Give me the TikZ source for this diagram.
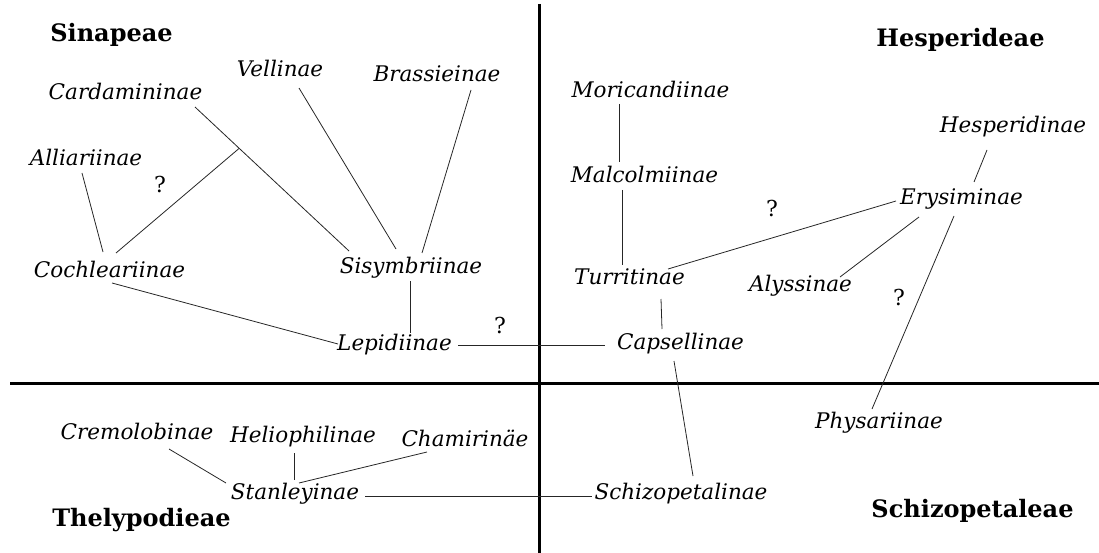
\documentclass[tikz,border=0pt]{standalone}
\usepackage{fontspec}
\setmainfont{DejaVu Serif}
\begin{document}
\begin{tikzpicture}[x=1pt,y=-1pt,
  taxon/.style={anchor=base,inner sep=0pt,font=\fontsize{21.5}{24}\selectfont\itshape},
  tribe/.style={anchor=base,inner sep=0pt,font=\fontsize{24}{28}\selectfont\bfseries},
  qmark/.style={anchor=base,inner sep=0pt,font=\fontsize{22}{24}\selectfont},
  link/.style={line width=0.8pt,draw=black!85},
  axis/.style={line width=3pt}]
\useasboundingbox (0,0) rectangle (1099,553);
% axes
\coordinate (hl) at (10,383); \coordinate (hr) at (1099,383);
\coordinate (vt) at (539,4);  \coordinate (vb) at (539,553);
\draw[axis] (hl) -- (hr);
\draw[axis] (vt) -- (vb);
% tribes
\node[tribe] (sinapeae) at (111.5,42) {Sinapeae};
\node[tribe] (hesperideae) at (960.5,47) {Hesperideae};
\node[tribe] (thelypodieae) at (141.5,526) {Thelypodieae};
\node[tribe] (schizopetaleae) at (972.5,517) {Schizopetaleae};
% taxa
\node[taxon] (vel) at (280,77) {Vellinae};
\node[taxon] (bra) at (437,82) {Brassieinae};
\node[taxon] (car) at (125.5,100) {Cardamininae};
\node[taxon] (all) at (86,166) {Alliariinae};
\node[taxon] (coc) at (109.5,277) {Cochleariinae};
\node[taxon] (sis) at (411,273) {Sisymbriinae};
\node[taxon] (lep) at (394.5,350) {Lepidiinae};
\node[taxon] (mor) at (650.5,98) {Moricandiinae};
\node[taxon] (mal) at (644.5,183) {Malcolmiinae};
\node[taxon] (hes) at (1013,133) {Hesperidinae};
\node[taxon] (ery) at (961.5,205) {Erysiminae};
\node[taxon] (tur) at (629.5,284) {Turritinae};
\node[taxon] (aly) at (800.5,291) {Alyssinae};
\node[taxon] (cap) at (680.5,349) {Capsellinae};
\node[taxon] (phy) at (879,428) {Physariinae};
\node[taxon] (cre) at (137,439) {Cremolobinae};
\node[taxon] (hel) at (303,442) {Heliophilinae};
\node[taxon] (cha) at (465,446) {Chamirinäe};
\node[taxon] (sta) at (295,499) {Stanleyinae};
\node[taxon] (sch) at (681,499) {Schizopetalinae};
% question marks
\node[qmark] (q1) at (160,193) {?};
\node[qmark] (q2) at (500,333) {?};
\node[qmark] (q3) at (772,217) {?};
\node[qmark] (q4) at (899,305) {?};
% connectors
\coordinate (j1) at (239,148.5);
\draw[link] ([shift={(69.5,7)}]car.base) -- ([shift={(-62,-22)}]sis.base);
\draw[link] (j1) -- ([shift={(6.5,-24)}]coc.base);
\draw[link] ([shift={(-4,7)}]all.base) -- ([shift={(-6.5,-25)}]coc.base);
\draw[link] ([shift={(19,11)}]vel.base) -- ([shift={(-15,-24)}]sis.base);
\draw[link] ([shift={(34,8)}]bra.base) -- ([shift={(11,-20)}]sis.base);
\draw[link] ([shift={(-1,8)}]sis.base) -- ([shift={(15.5,-17)}]lep.base);
\draw[link] ([shift={(2.5,6)}]coc.base) -- ([shift={(-56.5,-6)}]lep.base);
\draw[link] ([shift={(63.5,-5)}]lep.base) -- ([shift={(-75.5,-4)}]cap.base);
\draw[link] ([shift={(-31.5,6)}]mor.base) -- ([shift={(-25.5,-21)}]mal.base);
\draw[link] ([shift={(-22.5,7)}]mal.base) -- ([shift={(-7.5,-19)}]tur.base);
\draw[link] ([shift={(38.5,-15)}]tur.base) -- ([shift={(-65.5,-4)}]ery.base);
\draw[link] ([shift={(-26,17)}]hes.base) -- ([shift={(12.5,-23)}]ery.base);
\draw[link] ([shift={(-42.5,12)}]ery.base) -- ([shift={(39.5,-14)}]aly.base);
\draw[link] ([shift={(-7.5,11)}]ery.base) -- ([shift={(-7,-19)}]phy.base);
\draw[link] ([shift={(31.5,15)}]tur.base) -- ([shift={(-18.5,-20)}]cap.base);
\draw[link] ([shift={(-6.5,12)}]cap.base) -- ([shift={(12,-23)}]sch.base);
\draw[link] ([shift={(70,-3)}]sta.base) -- ([shift={(-89,-3)}]sch.base);
\draw[link] ([shift={(32,10)}]cre.base) -- ([shift={(-69,-16)}]sta.base);
\draw[link] ([shift={(-9,11)}]hel.base) -- ([shift={(-1,-19)}]sta.base);
\draw[link] ([shift={(-38,6)}]cha.base) -- ([shift={(4,-16)}]sta.base);
\end{tikzpicture}
\end{document}
